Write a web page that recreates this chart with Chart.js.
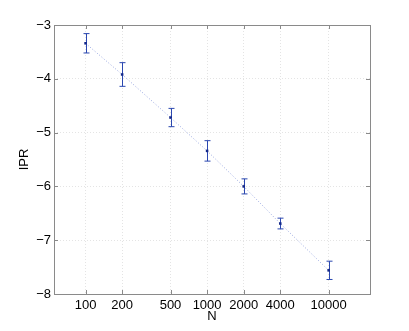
<!DOCTYPE html>
<html>
<head>
<meta charset="utf-8">
<script src="https://cdn.jsdelivr.net/npm/chart.js@4/dist/chart.umd.min.js"></script>
<style>
  html, body { margin: 0; padding: 0; background: #fff; }
  #wrap { width: 409px; height: 331px; }
</style>
</head>
<body>
<div id="wrap"><canvas id="c" width="409" height="331"></canvas></div>
<script>
// data
const nValues = [100, 200, 500, 1000, 2000, 4000, 10000];
const iprValues = [-3.34, -3.92, -4.72, -5.34, -6.00, -6.69, -7.56];
const iprErr = [0.18, 0.22, 0.17, 0.19, 0.14, 0.10, 0.17];
const xTicks = [100, 200, 500, 1000, 2000, 4000, 10000];
const yTicks = [-8, -7, -6, -5, -4, -3];

const FONT = 'Liberation Sans, Arial, sans-serif';

// error bars + box + inner tick marks, drawn through the chart's scales
const errorBars = {
    id: 'errorBars',
    beforeDatasetsDraw(chart) {
        const ctx = chart.ctx;
        const xs = chart.scales.x, ys = chart.scales.y;
        ctx.save();
        ctx.strokeStyle = '#2a47b0';
        ctx.lineWidth = 1;
        for (let i = 0; i < nValues.length; i++) {
            const px = Math.round(xs.getPixelForValue(nValues[i])) + 0.5;
            const top = ys.getPixelForValue(iprValues[i] + iprErr[i]);
            const bot = ys.getPixelForValue(iprValues[i] - iprErr[i]);
            ctx.beginPath();
            ctx.moveTo(px, top); ctx.lineTo(px, bot);
            ctx.moveTo(px - 3, top); ctx.lineTo(px + 3, top);
            ctx.moveTo(px - 3, bot); ctx.lineTo(px + 3, bot);
            ctx.stroke();
        }
        ctx.restore();
    },
    afterDraw(chart) {
        const ctx = chart.ctx;
        const a = chart.chartArea;
        const xs = chart.scales.x, ys = chart.scales.y;
        ctx.save();
        ctx.strokeStyle = '#8a8a8a';
        ctx.lineWidth = 1;
        ctx.strokeRect(Math.round(a.left) + 0.5, Math.round(a.top) + 0.5,
            Math.round(a.right - a.left), Math.round(a.bottom - a.top));
        ctx.beginPath();
        xTicks.forEach(v => {
            const px = Math.round(xs.getPixelForValue(v)) + 0.5;
            ctx.moveTo(px, a.bottom); ctx.lineTo(px, a.bottom - 4);
            ctx.moveTo(px, a.top); ctx.lineTo(px, a.top + 4);
        });
        yTicks.forEach(v => {
            const py = Math.round(ys.getPixelForValue(v)) + 0.5;
            ctx.moveTo(a.left, py); ctx.lineTo(a.left + 4, py);
            ctx.moveTo(a.right, py); ctx.lineTo(a.right - 4, py);
        });
        ctx.stroke();
        ctx.restore();
    }
};

const data = {
    labels: nValues,
    datasets: [{
        data: nValues.map((n, i) => ({x: n, y: iprValues[i]})),
        borderColor: '#9aa8e0',
        borderWidth: 1,
        borderDash: [1, 2],
        pointStyle: 'rect',
        pointRadius: 1.8,
        pointBackgroundColor: '#14288a',
        pointBorderColor: '#14288a',
        pointBorderWidth: 0,
        tension: 0
    }]
};

const config = {
    type: 'line',
    data: data,
    plugins: [errorBars],
    options: {
        responsive: false,
        animation: false,
        layout: { padding: { left: 0, right: 39, top: 25, bottom: 0 } },
        plugins: { legend: { display: false }, tooltip: { enabled: false } },
        scales: {
            x: {
                type: 'logarithmic',
                min: 55,
                max: 21900,
                afterBuildTicks: s => { s.ticks = xTicks.map(v => ({value: v})); },
                afterFit: s => { s.height = 37; },
                grid: { color: '#e4e4e4', drawTicks: false, lineWidth: 1 },
                border: { display: false, dash: [1, 2] },
                ticks: {
                    padding: 4,
                    color: '#000',
                    font: { family: FONT, size: 13 },
                    maxRotation: 0,
                    autoSkip: false,
                    callback: v => String(v)
                },
                title: {
                    display: true, text: 'N', color: '#000',
                    font: { family: FONT, size: 13 },
                    padding: { top: 0, bottom: 7 }
                }
            },
            y: {
                min: -8,
                max: -3,
                afterBuildTicks: s => { s.ticks = yTicks.map(v => ({value: v})); },
                afterFit: s => { s.width = 54; },
                grid: { color: '#e4e4e4', drawTicks: false, lineWidth: 1 },
                border: { display: false, dash: [1, 2] },
                ticks: {
                    padding: 3,
                    color: '#000',
                    font: { family: FONT, size: 13 },
                    callback: v => '\u2212' + Math.abs(v)
                },
                title: {
                    display: true, text: 'IPR', color: '#000',
                    font: { family: FONT, size: 13 },
                    padding: { top: 17, bottom: 0 }
                }
            }
        }
    }
};

new Chart(document.getElementById('c').getContext('2d'), config);
</script>
</body>
</html>
